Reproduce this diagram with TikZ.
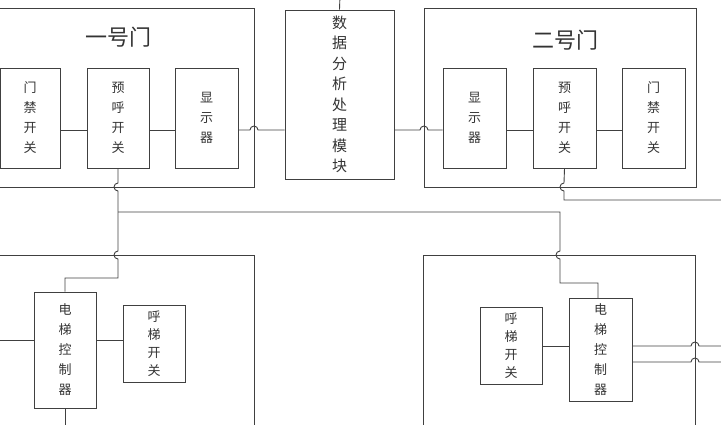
\documentclass[tikz,border=0pt]{standalone}
\usepackage{fontspec}
\newfontfamily\cjk{Noto Sans CJK SC}[Scale=1]
\begin{document}
\begin{tikzpicture}[x=1pt,y=-1pt,line width=0.9pt,draw=black!75,
  box/.style={draw=black!75,line width=0.9pt,align=center,inner sep=0pt,font=\cjk\fontsize{13}{20}\selectfont,text=black!80},
  sbox/.style={box,font=\cjk\fontsize{13}{18}\selectfont},
  ttl/.style={font=\cjk\fontsize{22}{24}\selectfont,text=black!80}]
\useasboundingbox (0,0) rectangle (721,425);
% outer frames
\draw (-5,8) -- (254,8) -- (254,187) -- (-5,187);
\draw (424,8) rectangle (696,187);
\draw (-5,255) -- (254,255) -- (254,430);
\draw (423,430) -- (423,255) -- (695,255) -- (695,430);
\node[ttl] (t1) at (118,37) {一号门};
\node[ttl] (t2) at (565,40) {二号门};
% door 1
\node[box,minimum width=60,minimum height=100] (mj1) at (30,118) {门\\禁\\开\\关};
\node[box,minimum width=62,minimum height=100] (yh1) at (118,118) {预\\呼\\开\\关};
\node[box,minimum width=63,minimum height=100] (xs1) at (206.5,118) {显\\示\\器};
% module
\node[box,minimum width=109,minimum height=169,font=\cjk\fontsize{15}{20.5}\selectfont] (mod) at (339.5,94.5) {数\\据\\分\\析\\处\\理\\模\\块};
% door 2
\node[box,minimum width=63,minimum height=100] (xs2) at (474.5,118) {显\\示\\器};
\node[box,minimum width=63,minimum height=100] (yh2) at (564.5,118) {预\\呼\\开\\关};
\node[box,minimum width=63,minimum height=100] (mj2) at (653.5,118) {门\\禁\\开\\关};
% elevators
\node[box,minimum width=62,minimum height=116] (dt1) at (65,350) {电\\梯\\控\\制\\器};
\node[sbox,minimum width=62,minimum height=77] (ht1) at (154,343.5) {呼\\梯\\开\\关};
\node[sbox,minimum width=62,minimum height=77] (ht2) at (511,345.5) {呼\\梯\\开\\关};
\node[box,minimum width=63,minimum height=103] (dt2) at (600.5,349.5) {电\\梯\\控\\制\\器};
% top connectors
\coordinate (top) at (340,-5);
\draw (top) -- (mod.north);
\draw (mj1.east |- 0,130) -- (yh1.west |- 0,130);
\draw (yh1.east |- 0,130) -- (xs1.west |- 0,130);
\draw (xs1.east |- 0,130) -- (250,130) arc(180:360:4) -- (mod.west |- 0,130);
\draw (mod.east |- 0,130) -- (420,130) arc(180:360:4) -- (xs2.west |- 0,130);
\draw (xs2.east |- 0,130) -- (yh2.west |- 0,130);
\draw (yh2.east |- 0,130) -- (mj2.west |- 0,130);
% door1 down to elevator 1
\draw (yh1.south) -- (118,183) arc(270:90:4) -- (118,251) arc(270:90:4) -- (118,278) -- (65,278) -- (dt1.north);
\coordinate (r1) at (725,200);
\draw (yh2.south) -- (564,183) arc(270:90:4) -- (564,200) -- (r1);
\draw (118,212) -- (560,212) -- (560,251) arc(270:90:4) -- (560,283) -- (598,283) -- (598,298);
% elevator 1
\coordinate (l1) at (-5,340);
\coordinate (b1) at (65,430);
\draw (l1) -- (dt1.west |- 0,340);
\draw (dt1.east |- 0,340) -- (ht1.west |- 0,340);
\draw (dt1.south) -- (b1);
% elevator 2
\coordinate (r2) at (725,346);
\coordinate (r3) at (725,362);
\draw (ht2.east |- 0,346) -- (dt2.west |- 0,346);
\draw (dt2.east |- 0,346) -- (691,346) arc(180:360:4) -- (r2);
\draw (dt2.east |- 0,362) -- (691,362) arc(180:360:4) -- (r3);
\end{tikzpicture}
\end{document}
